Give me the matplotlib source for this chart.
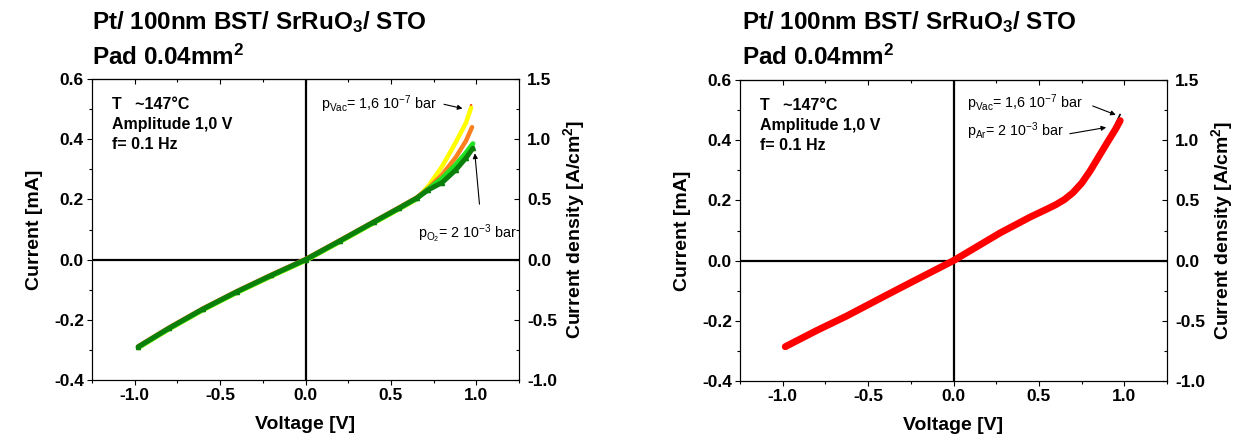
import matplotlib
matplotlib.use("Agg")
import matplotlib.pyplot as plt
from matplotlib.ticker import MultipleLocator

plt.rcParams['font.family'] = ['Liberation Sans', 'DejaVu Sans']
plt.rcParams['mathtext.fontset'] = 'custom'
plt.rcParams['mathtext.rm'] = 'Liberation Sans'
plt.rcParams['mathtext.it'] = 'Liberation Sans:italic'
plt.rcParams['mathtext.bf'] = 'Liberation Sans:bold'

# ---------------- data (left panel: several gas atmospheres) ----------------
v_common = [-0.98, -0.8, -0.6, -0.4, -0.2, 0.0, 0.2, 0.4, 0.55, 0.65]
i_common = [-0.290, -0.228, -0.164, -0.106, -0.052, 0.0, 0.062, 0.125, 0.172, 0.204]

v_hi_yellow = [0.72, 0.80, 0.88, 0.94, 0.97]
i_hi_yellow = [0.245, 0.310, 0.390, 0.455, 0.505]
v_hi_red = [0.72, 0.80, 0.88, 0.94, 0.97]
i_hi_red = [0.243, 0.305, 0.385, 0.460, 0.513]
v_hi_orange = [0.72, 0.80, 0.88, 0.94, 0.975]
i_hi_orange = [0.238, 0.282, 0.340, 0.395, 0.440]
v_hi_lgreen = [0.72, 0.80, 0.88, 0.94, 0.98]
i_hi_lgreen = [0.235, 0.270, 0.315, 0.355, 0.385]
v_hi_dgreen = [0.72, 0.80, 0.88, 0.94, 0.98]
i_hi_dgreen = [0.232, 0.256, 0.298, 0.338, 0.370]

# ---------------- data (right panel: vacuum / Ar) ----------------
v_ar = [-0.985, -0.8, -0.625, -0.4, -0.254, 0.0, 0.273, 0.45, 0.55, 0.60,
        0.65, 0.70, 0.75, 0.80, 0.85, 0.90, 0.95, 0.976]
i_ar = [-0.286, -0.232, -0.184, -0.117, -0.074, 0.0, 0.092, 0.145, 0.172, 0.186,
        0.203, 0.226, 0.257, 0.298, 0.345, 0.392, 0.438, 0.465]
v_vac_tip = [0.93, 0.975]
i_vac_tip = [0.430, 0.485]

pad_area_cm2 = 0.04e-2  # 0.04 mm^2 in cm^2
title1 = r"Pt/ 100nm BST/ SrRuO$_\mathbf{3}$/ STO"
title2 = r"Pad 0.04mm$^\mathbf{2}$"
cond_text = "T   ~147°C\nAmplitude 1,0 V\nf= 0.1 Hz"

fig = plt.figure(figsize=(12.34, 4.41), dpi=100)
W, H = 1234.0, 441.0


def style_axes(ax, fig_x0):
    ax.set_xlim(-1.25, 1.25)
    ax.set_ylim(-0.4, 0.6)
    ax.xaxis.set_major_locator(MultipleLocator(0.5))
    ax.xaxis.set_minor_locator(MultipleLocator(0.25))
    ax.yaxis.set_major_locator(MultipleLocator(0.2))
    ax.yaxis.set_minor_locator(MultipleLocator(0.1))
    ax.tick_params(axis='both', which='major', direction='out', length=3.8,
                   width=0.8, labelsize=12.5, pad=2, right=False, top=False)
    ax.tick_params(axis='both', which='minor', direction='out', length=2.2,
                   width=0.8, right=False, top=False)
    ax.set_xticks(ax.get_xticks())
    ax.set_xticklabels([f"{t:.1f}" for t in ax.get_xticks()], fontweight='bold')
    ax.set_yticks(ax.get_yticks())
    ax.set_yticklabels([f"{t:.1f}" for t in ax.get_yticks()], fontweight='bold')
    ax.set_xlim(-1.25, 1.25)
    ax.set_ylim(-0.4, 0.6)
    for s in ax.spines.values():
        s.set_linewidth(0.8)
    ax.axhline(0, color='black', lw=1.6, zorder=1)
    ax.axvline(0, color='black', lw=1.6, zorder=1)
    ax.set_xlabel("Voltage [V]", fontsize=14, fontweight='bold', labelpad=9)
    ax.set_ylabel("Current [mA]", fontsize=14, fontweight='bold', labelpad=8)

    top = ax.secondary_xaxis('top')
    top.xaxis.set_major_locator(MultipleLocator(0.5))
    top.xaxis.set_minor_locator(MultipleLocator(0.25))
    top.tick_params(which='major', direction='in', length=3.8, width=0.8, labeltop=False)
    top.tick_params(which='minor', direction='in', length=2.2, width=0.8)
    top.spines['top'].set_linewidth(0.8)

    tw = ax.twinx()
    tw.set_ylim(-0.4 / pad_area_cm2 * 1e-3, 0.6 / pad_area_cm2 * 1e-3)
    tw.yaxis.set_major_locator(MultipleLocator(0.5))
    tw.yaxis.set_minor_locator(MultipleLocator(0.25))
    tw.tick_params(which='major', direction='in', length=3.8, width=0.8,
                   labelsize=12.5, pad=6)
    tw.tick_params(which='minor', direction='in', length=2.2, width=0.8)
    tw.set_yticks(tw.get_yticks())
    tw.set_yticklabels([f"{t:.1f}" for t in tw.get_yticks()], fontweight='bold')
    tw.set_ylim(-1.0, 1.5)
    for s in tw.spines.values():
        s.set_linewidth(0.8)
    tw.set_ylabel(r"Current density [A/cm$^\mathbf{2}$]", fontsize=14,
                  fontweight='bold', labelpad=3)

    ax.text(0.047, 0.94, cond_text, transform=ax.transAxes, fontsize=11.5,
            fontweight='bold', va='top', ha='left', linespacing=1.4)
    fig.text(fig_x0, 1 - 29 / H, title1, fontsize=17.5, fontweight='bold',
             ha='left', va='baseline')
    fig.text(fig_x0, 1 - 65 / H, title2, fontsize=17.5, fontweight='bold',
             ha='left', va='baseline')


# ---------------- left panel ----------------
ax1 = fig.add_axes([92 / W, 61 / H, 427 / W, 301 / H])
style_axes(ax1, 92 / W)

kw = dict(solid_capstyle='round', solid_joinstyle='round')
ax1.plot(v_common + v_hi_red, i_common + i_hi_red, color='#ff0000', lw=1.6, zorder=3, **kw)
ax1.plot(v_common + v_hi_yellow, [i - 0.004 for i in i_common] + i_hi_yellow,
         color='#ffff00', lw=3.2, zorder=3, **kw)
ax1.plot(v_common + v_hi_orange, [i + 0.002 for i in i_common] + i_hi_orange,
         color='#ff7f1e', lw=3.2, zorder=3, **kw)
ax1.plot(v_common + v_hi_lgreen, [i - 0.002 for i in i_common] + i_hi_lgreen,
         color='#22e022', lw=3.6, zorder=3, **kw)
ax1.plot(v_common + v_hi_dgreen, i_common + i_hi_dgreen, color='#0a800a', lw=3.6,
         zorder=4, marker='^', markersize=3, **kw)

ax1.text(0.093, 0.50, r"p$_{\mathrm{Vac}}$= 1,6 10$^{-7}$ bar", fontsize=10.3, zorder=5)
ax1.annotate('', xy=(0.935, 0.500), xytext=(0.795, 0.518),
             arrowprops=dict(arrowstyle='-|>', color='k', lw=0.8, mutation_scale=7))
ax1.text(0.66, 0.071, r"p$_{\mathrm{O}_2}$= 2 10$^{-3}$ bar", fontsize=10.3,
         zorder=5, clip_on=True)
ax1.annotate('', xy=(0.99, 0.362), xytext=(1.02, 0.175),
             arrowprops=dict(arrowstyle='-|>', color='k', lw=0.8, mutation_scale=7))

# ---------------- right panel ----------------
ax2 = fig.add_axes([740 / W, 60 / H, 427 / W, 301 / H])
style_axes(ax2, 742 / W)

ax2.plot(v_vac_tip, i_vac_tip, color='black', lw=1.2, zorder=3)
ax2.plot(v_ar, i_ar, color='#ff0000', lw=5.0, zorder=4, **kw)

ax2.text(0.078, 0.507, r"p$_{\mathrm{Vac}}$= 1,6 10$^{-7}$ bar", fontsize=10.3, zorder=5)
ax2.annotate('', xy=(0.965, 0.481), xytext=(0.80, 0.517),
             arrowprops=dict(arrowstyle='-|>', color='k', lw=0.8, mutation_scale=7))
ax2.text(0.078, 0.414, r"p$_{\mathrm{Ar}}$= 2 10$^{-3}$ bar", fontsize=10.3, zorder=5)
ax2.annotate('', xy=(0.91, 0.444), xytext=(0.665, 0.42),
             arrowprops=dict(arrowstyle='-|>', color='k', lw=0.8, mutation_scale=7))

fig.savefig("out.png", dpi=100)
